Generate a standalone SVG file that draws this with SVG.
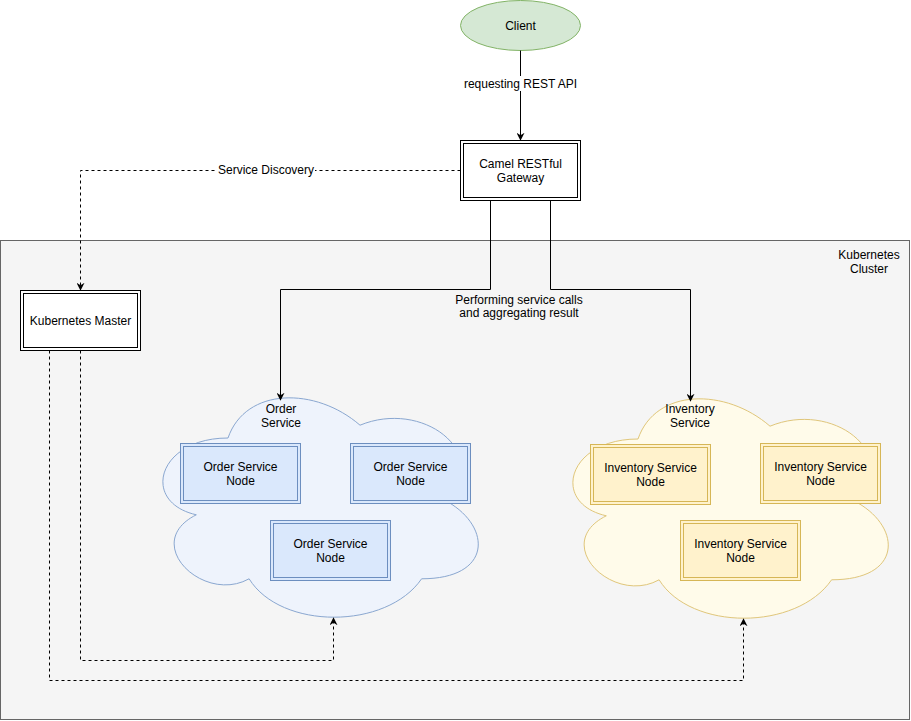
<svg xmlns="http://www.w3.org/2000/svg" width="911" height="721" viewBox="0 0 911 721">
<style>
text{font-family:"Liberation Sans",Arial,sans-serif;font-size:12px;fill:#000;text-anchor:middle}
.edge{fill:none;stroke:#000;stroke-width:1}
.dash{stroke-dasharray:3,3}
.dbl{fill:#fff;stroke:#000;stroke-width:1}
.bo{fill:#dae8fc;stroke:#6c8ebf}
.yo{fill:#fff2cc;stroke:#d6b656}
.bi{fill:none;stroke:#6c8ebf}
.yi{fill:none;stroke:#d6b656}
</style>
<defs>
<marker id="arr" viewBox="0 0 10 10" refX="9" refY="5" markerWidth="8" markerHeight="8" orient="auto" markerUnits="userSpaceOnUse">
<path d="M0,0 L10,5 L0,10 L3,5 Z" fill="#000"/>
</marker>
<path id="cloudShape" d="M228,438 C157.6,438 140,502 196.3,514.8 C140,543 203.4,604.4 249.1,578.8 C280.8,630 386.4,630 421.6,578.8 C492,578.8 492,527.6 448,502 C492,450.8 421.6,399.6 360,425.2 C316,386.8 245.6,386.8 228,438 Z"/>
</defs>
<rect width="911" height="721" fill="#fff"/>

<g id="cluster">
<rect x="0.5" y="240.5" width="909" height="479" fill="#f5f5f5" stroke="#666"/>
<text x="869" y="259">Kubernetes</text>
<text x="869" y="273">Cluster</text>
</g>

<g id="order-service">
<use href="#cloudShape" fill="#eef3fc" stroke="#8aa7d0"/>
<text x="281" y="413">Order</text>
<text x="281" y="427">Service</text>
</g>

<g id="inventory-service">
<use href="#cloudShape" transform="translate(410,1)" fill="#fffbea" stroke="#e0c67a"/>
<text x="690" y="413">Inventory</text>
<text x="690" y="427">Service</text>
</g>

<g id="client">
<ellipse cx="520.5" cy="25.5" rx="60" ry="25" fill="#d5e8d4" stroke="#82b366"/>
<text x="520.5" y="30">Client</text>
</g>

<g id="gateway">
<rect x="460.5" y="140.5" width="120" height="60" class="dbl"/>
<rect x="463.5" y="143.5" width="114" height="54" fill="none" stroke="#000"/>
<text x="520.5" y="168">Camel RESTful</text>
<text x="520.5" y="182">Gateway</text>
</g>

<g id="master">
<rect x="20.5" y="290.5" width="120" height="60" class="dbl"/>
<rect x="23.5" y="293.5" width="114" height="54" fill="none" stroke="#000"/>
<text x="80.5" y="325">Kubernetes Master</text>
</g>

<g id="order-node-1">
<rect x="180.5" y="443.5" width="120" height="60" class="bo"/>
<rect x="183.5" y="446.5" width="114" height="54" class="bi"/>
<text x="240.5" y="471">Order Service</text>
<text x="240.5" y="485">Node</text>
</g>
<g id="order-node-2">
<rect x="350.5" y="443.5" width="120" height="60" class="bo"/>
<rect x="353.5" y="446.5" width="114" height="54" class="bi"/>
<text x="410.5" y="471">Order Service</text>
<text x="410.5" y="485">Node</text>
</g>
<g id="order-node-3">
<rect x="270.5" y="520.5" width="120" height="60" class="bo"/>
<rect x="273.5" y="523.5" width="114" height="54" class="bi"/>
<text x="330.5" y="548">Order Service</text>
<text x="330.5" y="562">Node</text>
</g>

<g id="inventory-node-1">
<rect x="590.5" y="444.5" width="120" height="60" class="yo"/>
<rect x="593.5" y="447.5" width="114" height="54" class="yi"/>
<text x="650.5" y="472">Inventory Service</text>
<text x="650.5" y="486">Node</text>
</g>
<g id="inventory-node-2">
<rect x="760.5" y="443.5" width="120" height="60" class="yo"/>
<rect x="763.5" y="446.5" width="114" height="54" class="yi"/>
<text x="820.5" y="471">Inventory Service</text>
<text x="820.5" y="485">Node</text>
</g>
<g id="inventory-node-3">
<rect x="680.5" y="520.5" width="120" height="60" class="yo"/>
<rect x="683.5" y="523.5" width="114" height="54" class="yi"/>
<text x="740.5" y="548">Inventory Service</text>
<text x="740.5" y="562">Node</text>
</g>

<g id="connectors">
<path class="edge" d="M520.5,50.5 V140" marker-end="url(#arr)"/>
<rect x="469" y="76" width="103" height="15" fill="#fff"/>
<text x="520.5" y="88">requesting REST API</text>

<path class="edge dash" d="M460.5,170.5 H80.5 V290" marker-end="url(#arr)"/>
<rect x="217" y="162" width="98" height="15" fill="#fff"/>
<text x="266" y="174">Service Discovery</text>

<path class="edge" d="M490.5,200.5 V289.5 H280.5 V400" marker-end="url(#arr)"/>
<path class="edge" d="M550.5,200.5 V289.5 H690.5 V401" marker-end="url(#arr)"/>
<text x="519" y="304">Performing service calls</text>
<text x="519" y="317">and aggregating result</text>

<path class="edge dash" d="M80.5,350.5 V660.5 H333.5 V618" marker-end="url(#arr)"/>
<path class="edge dash" d="M49.5,350.5 V680.5 H743.5 V619" marker-end="url(#arr)"/>
</g>
</svg>
